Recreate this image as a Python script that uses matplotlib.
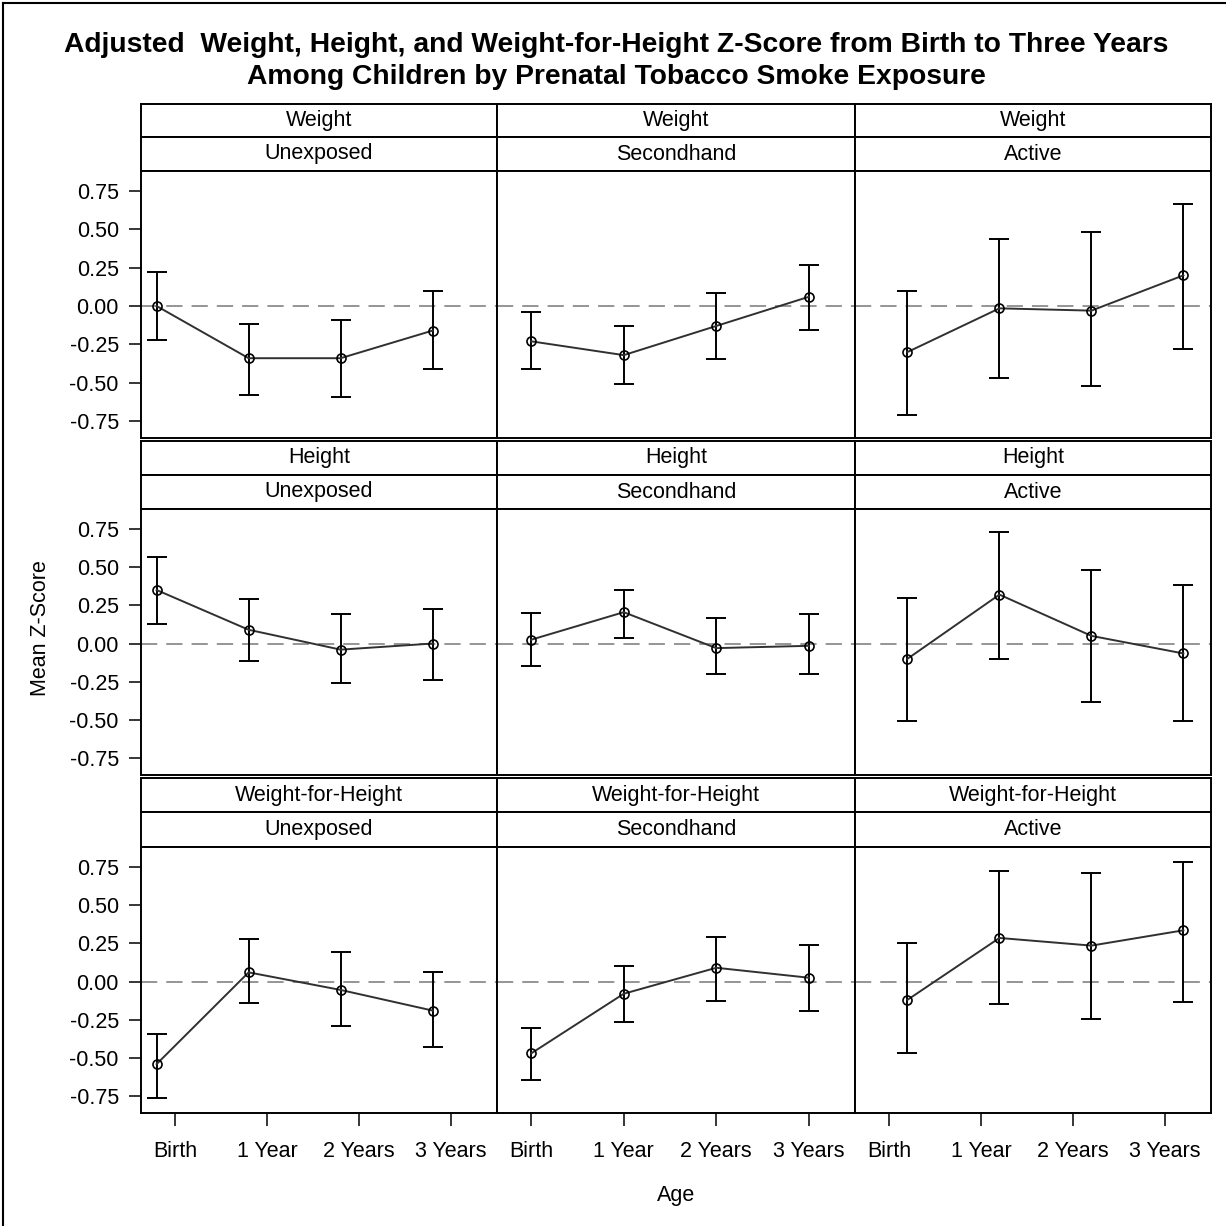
import numpy as np
import matplotlib
matplotlib.use("Agg")
import matplotlib.pyplot as plt
from matplotlib.lines import Line2D

plt.rcParams['font.family'] = ['Liberation Sans', 'DejaVu Sans']

measures = ['Weight', 'Height', 'Weight-for-Height']
exposures = ['Unexposed', 'Secondhand', 'Active']
ages = ['Birth', '1 Year', '2 Years', '3 Years']

# mean z-score, one row per exposure group (Unexposed, Secondhand, Active)
weight_mean = [[0.00, -0.34, -0.34, -0.16],
               [-0.23, -0.32, -0.13, 0.06],
               [-0.30, -0.015, -0.03, 0.20]]
weight_lo = [[-0.22, -0.58, -0.595, -0.41],
             [-0.41, -0.51, -0.345, -0.155],
             [-0.71, -0.47, -0.52, -0.28]]
weight_hi = [[0.225, -0.12, -0.09, 0.10],
             [-0.04, -0.13, 0.085, 0.265],
             [0.10, 0.44, 0.48, 0.665]]

height_mean = [[0.35, 0.09, -0.04, 0.00],
               [0.025, 0.205, -0.03, -0.015],
               [-0.10, 0.32, 0.05, -0.065]]
height_lo = [[0.125, -0.115, -0.255, -0.24],
             [-0.15, 0.035, -0.20, -0.20],
             [-0.505, -0.10, -0.38, -0.505]]
height_hi = [[0.565, 0.29, 0.19, 0.225],
             [0.20, 0.35, 0.165, 0.19],
             [0.30, 0.73, 0.48, 0.38]]

wfh_mean = [[-0.54, 0.06, -0.055, -0.19],
            [-0.47, -0.08, 0.09, 0.025],
            [-0.12, 0.285, 0.235, 0.335]]
wfh_lo = [[-0.76, -0.14, -0.29, -0.43],
          [-0.645, -0.265, -0.13, -0.19],
          [-0.47, -0.145, -0.245, -0.135]]
wfh_hi = [[-0.345, 0.275, 0.19, 0.065],
          [-0.305, 0.10, 0.29, 0.24],
          [0.255, 0.725, 0.71, 0.785]]

means = [weight_mean, height_mean, wfh_mean]
lows = [weight_lo, height_lo, wfh_lo]
highs = [weight_hi, height_hi, wfh_hi]

yticks = [0.75, 0.50, 0.25, 0.00, -0.25, -0.50, -0.75]

W = H = 1226
fig = plt.figure(figsize=(W / 100, H / 100), dpi=100, facecolor='white')


def rect(x0, y0, x1, y1):
    return [x0 / W, 1 - y1 / H, (x1 - x0) / W, (y1 - y0) / H]


col_edges = [141, 497, 855, 1211]
strip_tops = [104, 441, 778]
strip_mid = [137, 475, 812]
plot_tops = [171, 509, 847]
plot_bots = [438, 775, 1113]
offsets = [-0.2, 0.0, 0.2]
spine_w = 1.4
fs = 15.5

for r in range(3):
    for c in range(3):
        x0, x1 = col_edges[c], col_edges[c + 1]
        # two header strips
        for (ya, yb, label) in [(strip_tops[r], strip_mid[r], measures[r]),
                                (strip_mid[r], plot_tops[r], exposures[c])]:
            sa = fig.add_axes(rect(x0, ya, x1, yb))
            sa.set_xticks([])
            sa.set_yticks([])
            for s in sa.spines.values():
                s.set_linewidth(spine_w)
            sa.text(0.5, 0.5, label, ha='center', va='center', fontsize=fs,
                    transform=sa.transAxes)

        ax = fig.add_axes(rect(x0, plot_tops[r], x1, plot_bots[r]))
        for s in ax.spines.values():
            s.set_linewidth(spine_w)
        ax.set_xlim(-0.37, 3.5)
        ax.set_ylim(-0.86, 0.88)
        ax.axhline(0, color='#8c8c8c', lw=1.3, ls=(0, (9, 5)), zorder=1)

        xs = np.arange(len(ages)) + offsets[c]
        m = np.array(means[r][c])
        lo = np.array(lows[r][c])
        hi = np.array(highs[r][c])
        ax.errorbar(xs, m, yerr=[m - lo, hi - m], fmt='none', ecolor='black',
                    elinewidth=1.4, capsize=7.5, capthick=1.4, zorder=2)
        ax.plot(xs, m, color='#303030', lw=1.4, marker='o', ms=6.5,
                mfc='none', mec='black', mew=1.2, zorder=3)

        ax.set_yticks(yticks)
        ax.set_xticks(range(len(ages)))
        ax.tick_params(direction='out', length=9, width=1.1, labelsize=fs,
                       colors='black')
        if c == 0:
            ax.set_yticklabels(['%.2f' % v for v in yticks])
            ax.tick_params(axis='y', pad=7)
        else:
            ax.tick_params(axis='y', left=False, labelleft=False)
        if r == 2:
            ax.set_xticklabels(ages)
            ax.tick_params(axis='x', pad=11)
        else:
            ax.tick_params(axis='x', bottom=False, labelbottom=False)

fig.text(616 / W, 1 - 45 / H,
         'Adjusted  Weight, Height, and Weight-for-Height Z-Score from Birth to Three Years',
         ha='center', va='center', fontsize=20.3, fontweight='bold')
fig.text(616 / W, 1 - 77 / H,
         'Among Children by Prenatal Tobacco Smoke Exposure',
         ha='center', va='center', fontsize=20.3, fontweight='bold')
fig.text(40 / W, 1 - 628 / H, 'Mean Z-Score', rotation=90, ha='center',
         va='center', fontsize=fs)
fig.text(676 / W, 1 - 1196 / H, 'Age', ha='center', va='center', fontsize=fs)

# outer frame (top and left edges visible in the reference)
fig.add_artist(Line2D([3 / W, 3 / W], [0, 1 - 3 / H], color='black', lw=1.5,
                      transform=fig.transFigure))
fig.add_artist(Line2D([3 / W, 1], [1 - 3 / H, 1 - 3 / H], color='black', lw=1.5,
                      transform=fig.transFigure))

fig.savefig('out.png', dpi=100, facecolor='white')
